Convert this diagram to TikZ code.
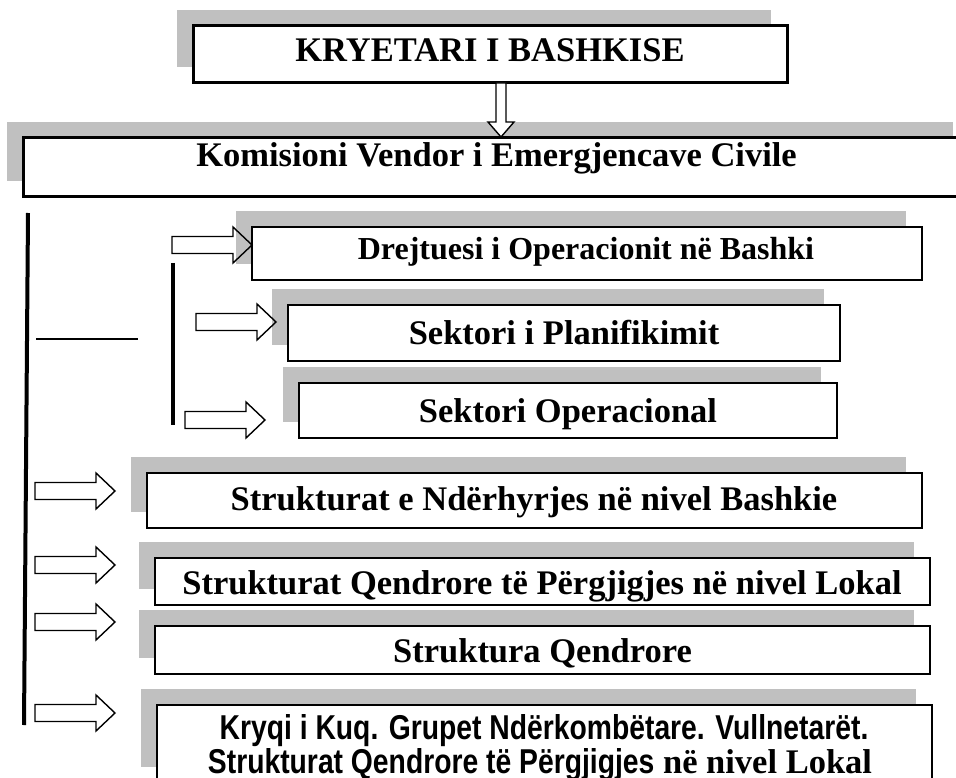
\documentclass[tikz,border=0pt]{standalone}
\usepackage{fontspec}
\setmainfont{Liberation Serif}
\newfontfamily\narrowsans[FakeStretch=0.82]{Liberation Sans}
\usetikzlibrary{shadows}
\definecolor{shadowgray}{HTML}{C0C0C0}
\tikzset{
  boxbase/.style={rectangle, draw=black, fill=white, inner sep=0pt,
    general shadow={fill=shadowgray, draw=none, shadow xshift=-16pt, shadow yshift=16pt}},
  bigbox/.style={boxbase, line width=3pt},
  smallbox/.style={boxbase, line width=2pt},
  lbl/.style={anchor=base, inner sep=0pt, font=\fontsize{34.5}{40}\selectfont\bfseries},
  barrow/.style={draw=black, line width=1.4pt, line join=miter},
  rulethick/.style={line width=4pt},
  rulethin/.style={line width=2pt},
  rarrow/.pic={\draw[barrow] (0,0) -- (-19,-18) -- (-19,-8.5) -- (-80,-8.5) -- (-80,8.5) -- (-19,8.5) -- (-19,18) -- cycle;},
  darrow/.pic={\draw[barrow, fill=white] (0,0) -- (-13,-15) -- (-5,-15) -- (-5,-54) -- (5,-54) -- (5,-15) -- (13,-15) -- cycle;}
}
\begin{document}
\begin{tikzpicture}[x=1pt,y=-1pt]
\useasboundingbox (0,0) rectangle (956,778);
\clip (0,0) rectangle (956,778);
% boxes
\node[bigbox, minimum width=594pt, minimum height=57pt] (kry) at (490,54.5) {};
\node[bigbox, minimum width=946pt, minimum height=59pt] (kom) at (496,167.5) {};
\node[smallbox, minimum width=670pt, minimum height=53pt] (drej) at (587,253.5) {};
\node[smallbox, minimum width=552pt, minimum height=56pt] (plan) at (564,333) {};
\node[smallbox, minimum width=538pt, minimum height=55pt] (oper) at (568,410.5) {};
\node[smallbox, minimum width=775pt, minimum height=55pt] (nder) at (534.5,500.5) {};
\node[smallbox, minimum width=775pt, minimum height=47pt] (qend) at (542.5,581.5) {};
\node[smallbox, minimum width=775pt, minimum height=48pt] (strq) at (542.5,650) {};
\node[smallbox, minimum width=775pt, minimum height=78pt] (kryq) at (544.5,744) {};
% texts
\node[lbl] (tkry) at (490,62) {KRYETARI I BASHKISE};
\node[lbl] (tkom) at (496.5,167) {Komisioni Vendor i Emergjencave Civile};
\node[lbl, font=\fontsize{32}{38}\selectfont\bfseries] (tdrej) at (586,260) {Drejtuesi i Operacionit në Bashki};
\node[lbl] (tplan) at (564,344) {Sektori i Planifikimit};
\node[lbl] (toper) at (568,422) {Sektori Operacional};
\node[lbl] (tnder) at (534,510) {Strukturat e Ndërhyrjes në nivel Bashkie};
\node[lbl] (tqend) at (542,594) {Strukturat Qendrore të Përgjigjes në nivel Lokal};
\node[lbl] (tstrq) at (542.5,662) {Struktura Qendrore};
\node[lbl] (tkryqA) at (544,739) {\narrowsans Kryqi i Kuq. Grupet Ndërkombëtare. Vullnetarët.};
\node[lbl] (tkryqB) at (540,773) {{\narrowsans Strukturat Qendrore të Përgjigjes} në nivel Lokal};
% lines
\coordinate (outerTop) at (28,213);
\coordinate (outerBot) at (24,725);
\coordinate (innerTop) at (173,263);
\coordinate (innerBot) at (173,425);
\coordinate (hA) at (36,339);
\coordinate (hB) at (138,339);
\draw[rulethick] (outerTop) -- (outerBot);
\draw[rulethick] (innerTop) -- (innerBot);
\draw[rulethin] (hA) -- (hB);
% arrows
\coordinate (dtip) at (501,137);
\pic at (dtip) {darrow};
\coordinate (a1) at (252,245);
\coordinate (a2) at (276,322);
\coordinate (a3) at (265,420);
\coordinate (a4) at (115,491);
\coordinate (a5) at (115,565);
\coordinate (a6) at (115,622);
\coordinate (a7) at (115,713);
\foreach \t in {a1,a2,a3,a4,a5,a6,a7} {\pic at (\t) {rarrow};}
\end{tikzpicture}
\end{document}
